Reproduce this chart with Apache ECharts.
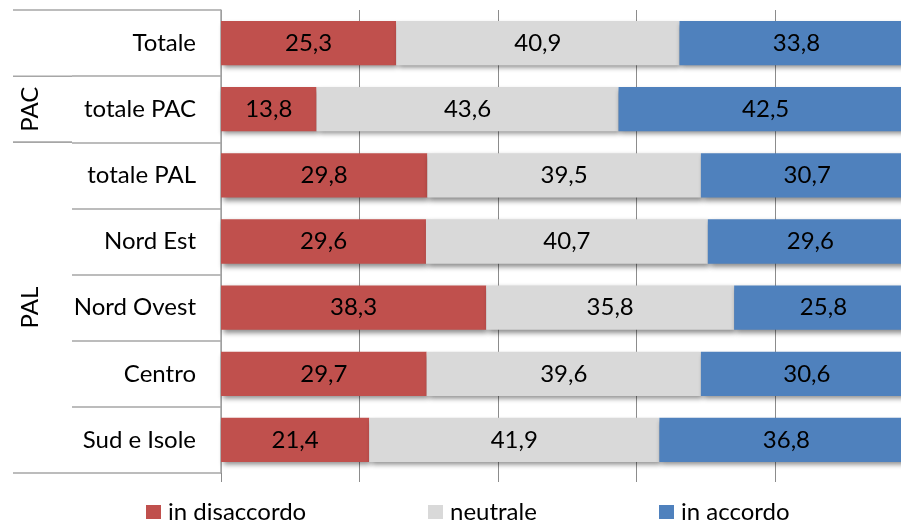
<!DOCTYPE html>
<html>
<head>
<meta charset="utf-8">
<script src="https://cdn.jsdelivr.net/npm/echarts@6/dist/echarts.min.js"></script>
<style>
  html, body { margin: 0; padding: 0; background: #fff; }
  #chart { width: 901px; height: 522px; }
</style>
</head>
<body>
<div id="chart"></div>
<script>
// Row labels, top to bottom
const categories = ['Totale', 'totale PAC', 'totale PAL', 'Nord Est', 'Nord Ovest', 'Centro', 'Sud e Isole'];
// Percentages per answer
const disaccordo = [25.3, 13.8, 29.8, 29.6, 38.3, 29.7, 21.4];
const neutrale   = [40.9, 43.6, 39.5, 40.7, 35.8, 39.6, 41.9];
const accordo    = [33.8, 42.5, 30.7, 29.6, 25.8, 30.6, 36.8];
const seriesNames = ['in disaccordo', 'neutrale', 'in accordo'];
// Outer grouping of rows (index range, inclusive)
const groups = [
  { name: 'PAC', from: 1, to: 1 },
  { name: 'PAL', from: 2, to: 6 }
];

const FONT = 'Lato';
const FS = 24;
const LINE = '#a6a6a6';
const legendLeft = [146, 428, 659];

const chart = echarts.init(document.getElementById('chart'), null, { renderer: 'canvas' });

const fmt = p => p.value.toFixed(1).replace('.', ',');

function barSeries(name, data, color) {
  return {
    name: name,
    type: 'bar',
    stack: 'tot',
    data: data,
    barCategoryGap: '33%',
    itemStyle: {
      color: color,
      shadowColor: 'rgba(0,0,0,0.45)',
      shadowBlur: 5,
      shadowOffsetX: 2,
      shadowOffsetY: 3
    },
    label: {
      show: true,
      position: 'inside',
      color: '#000',
      fontFamily: FONT,
      fontSize: FS,
      formatter: fmt
    }
  };
}

const option = {
  animation: false,
  textStyle: { fontFamily: FONT },
  // the value axis runs a little past the right edge of the canvas
  grid: { left: 221, top: 10, width: 692.5, height: 463, containLabel: false, outerBoundsMode: 'none' },
  xAxis: {
    type: 'value',
    min: 0, max: 100, interval: 20,
    axisLabel: { show: false },
    axisLine: { show: false },
    axisTick: { show: true, length: 9, lineStyle: { color: '#8c8c8c', width: 1 } },
    splitLine: { show: true, lineStyle: { color: '#8c8c8c', width: 1 } }
  },
  yAxis: {
    type: 'category',
    inverse: true,
    data: categories,
    axisLine: { show: true, lineStyle: { color: LINE, width: 1.5 } },
    axisTick: { show: true, length: 149, lineStyle: { color: LINE, width: 1.5 } },
    axisLabel: { color: '#000', fontFamily: FONT, fontSize: FS, margin: 25 }
  },
  legend: seriesNames.map((n, i) => ({
    left: legendLeft[i], top: 500, padding: 0,
    itemWidth: 15, itemHeight: 14,
    icon: 'rect',
    textStyle: { color: '#000', fontFamily: FONT, fontSize: FS, padding: [0, 0, 0, 2] },
    data: [n]
  })),
  series: [
    barSeries(seriesNames[0], disaccordo, '#C0504D'),
    barSeries(seriesNames[1], neutrale, '#D9D9D9'),
    barSeries(seriesNames[2], accordo, '#4F81BD')
  ]
};

chart.setOption(option);

// Group brackets and rotated group names at the far left of the category axis
function bandEdges(i) {
  const c = chart.convertToPixel({ yAxisIndex: 0 }, i);
  const c2 = chart.convertToPixel({ yAxisIndex: 0 }, i === 0 ? 1 : i - 1);
  const half = Math.abs(c - c2) / 2;
  return [c - half, c + half];
}
const outerX = 13, innerX = 72;
const graphics = [];
const edgeYs = new Set();
edgeYs.add(bandEdges(0)[0]);
groups.forEach(g => {
  const top = bandEdges(g.from)[0];
  const bot = bandEdges(g.to)[1];
  edgeYs.add(top); edgeYs.add(bot);
  graphics.push({
    type: 'text',
    x: 30, y: (top + bot) / 2,
    rotation: Math.PI / 2,
    style: {
      text: g.name, fontFamily: FONT, fontSize: FS, fill: '#000',
      align: 'center', verticalAlign: 'middle'
    }
  });
});
edgeYs.forEach(y => {
  graphics.push({
    type: 'line',
    shape: { x1: outerX, y1: y, x2: innerX, y2: y },
    style: { stroke: LINE, lineWidth: 1.5 }
  });
});
chart.setOption({ graphic: graphics });
</script>
</body>
</html>
